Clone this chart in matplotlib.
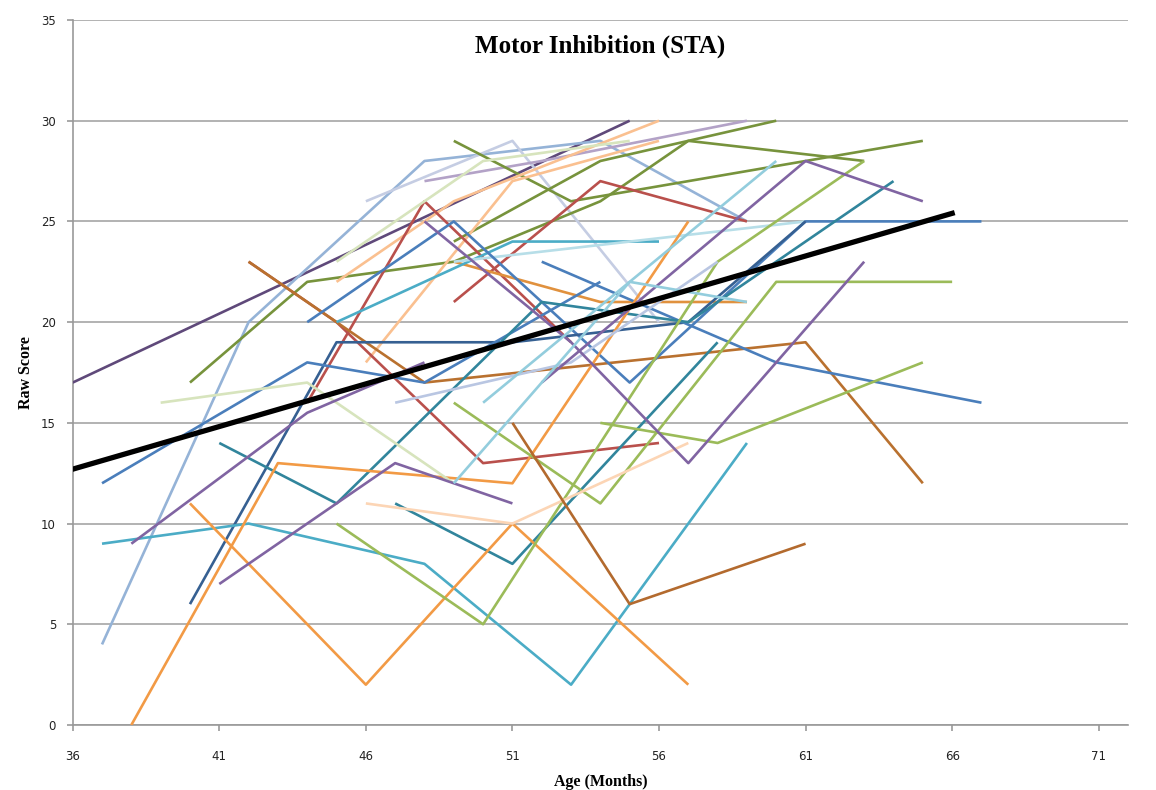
import matplotlib.pyplot as plt

# Age (months) and raw score for each child
ages = [
    [36, 55],                      # dark purple
    [37, 42, 48, 54, 59],          # light blue
    [46, 51, 56],                  # lavender
    [48, 52, 59],                  # light purple
    [40, 44, 49, 54, 57, 63],      # olive 1
    [49, 53, 61, 65],              # olive 2
    [49, 54, 57, 60],              # olive 3
    [45, 49, 56],                  # peach a
    [46, 51, 56],                  # peach b
    [44, 48, 53],                  # red a
    [42, 45, 50, 56],              # red b
    [49, 54, 59],                  # red c
    [42, 45, 48, 61, 65],          # ochre
    [49, 54, 59],                  # orange c
    [45, 51, 56],                  # aqua a
    [49, 61],                      # pale aqua
    [44, 49, 55, 61, 67],          # steel blue a
    [40, 45, 51, 57, 61],          # navy
    [52, 60, 67],                  # steel blue b
    [37, 44, 48, 54],              # steel blue c
    [41, 45, 52, 57, 64],          # teal 1
    [47, 51, 58],                  # teal 2
    [37, 42, 48, 53, 59],          # aqua b
    [38, 43, 51, 57],              # orange a
    [40, 46, 51, 57],              # orange b
    [39, 44, 49],                  # pale green a
    [45, 50, 55],                  # pale green b
    [45, 50, 58, 63],              # yellow green a
    [49, 54, 60, 66],              # yellow green b
    [54, 58, 65],                  # yellow green c
    [46, 51, 57],                  # pale salmon
    [51, 55, 61],                  # brown
    [47, 53, 58],                  # grey blue
    [38, 44, 48],                  # purple a
    [41, 47, 51],                  # purple b
    [48, 53, 57, 63],              # purple c
    [52, 61, 65],                  # purple d
    [50, 60],                      # sky a
    [49, 55, 59],                  # sky b
]
scores = [
    [17, 30],
    [4, 20, 28, 29, 25],
    [26, 29, 20],
    [27, 28, 30],
    [17, 22, 23, 26, 29, 28],
    [29, 26, 28, 29],
    [24, 28, 29, 30],
    [22, 26, 30],
    [18, 27, 29],
    [16, 26, 19],
    [23, 20, 13, 14],
    [21, 27, 25],
    [23, 20, 17, 19, 12],
    [23, 21, 21],
    [20, 24, 24],
    [23, 25],
    [20, 25, 17, 25, 25],
    [6, 19, 19, 20, 25],
    [23, 18, 16],
    [12, 18, 17, 22],
    [14, 11, 21, 20, 27],
    [11, 8, 19],
    [9, 10, 8, 2, 14],
    [0, 13, 12, 25],
    [11, 2, 10, 2],
    [16, 17, 12],
    [23, 28, 29],
    [10, 5, 23, 28],
    [16, 11, 22, 22],
    [15, 14, 18],
    [11, 10, 14],
    [15, 6, 9],
    [16, 18, 23],
    [9, 15.5, 18],
    [7, 13, 11],
    [25, 19, 13, 23],
    [17, 28, 26],
    [16, 28],
    [12, 22, 21],
]
line_colors = [
    "#5F497A", "#95B3D7", "#C5CDE3", "#B3A2C7", "#77933C", "#77933C",
    "#77933C", "#FAC090", "#FAC090", "#B9504C", "#B9504C", "#B9504C",
    "#B9712F", "#E0913E", "#4BACC6", "#B7DEE8", "#4A7EBB", "#366092",
    "#4A7EBB", "#4A7EBB", "#31859C", "#31859C", "#4BACC6", "#F29A45",
    "#F29A45", "#D7E4BD", "#D7E4BD", "#9BBB59", "#9BBB59", "#9BBB59",
    "#FCD5B5", "#B36A2E", "#B9C6E2", "#8064A2", "#8064A2", "#8064A2",
    "#8064A2", "#93CDDD", "#93CDDD",
]

# Excel linear trend line end points
trend_age = [36, 66]
trend_score = [12.7, 25.4]

fig = plt.figure(figsize=(11.56, 7.90), dpi=100)
ax = fig.add_axes([0.0629, 0.0823, 0.9129, 0.8924])

for a, s, c in zip(ages, scores, line_colors):
    ax.plot(a, s, color=c, lw=1.9, solid_capstyle="butt", zorder=3)
ax.plot(trend_age, trend_score, color="black", lw=3.8, zorder=5)

ax.set_xlim(36, 72)
ax.set_ylim(0, 35)
ax.set_xticks(range(36, 72, 5))
ax.set_yticks(range(0, 36, 5))
ax.yaxis.grid(True, color="#A6A6A6", lw=1.2)
ax.set_axisbelow(True)
for side in ["top", "right"]:
    ax.spines[side].set_visible(False)
for side in ["left", "bottom"]:
    ax.spines[side].set_color("#999999")
    ax.spines[side].set_linewidth(1.2)
ax.tick_params(axis="both", colors="#999999", length=4, width=1.2,
               labelcolor="#222222", labelsize=8.5)
ax.tick_params(axis="x", pad=14)
ax.tick_params(axis="y", pad=8)

ax.set_title("Motor Inhibition (STA)", family="Liberation Serif",
             fontweight="bold", fontsize=18, y=0.942)
ax.set_xlabel("Age (Months)", family="Liberation Serif", fontweight="bold",
              fontsize=11.5, labelpad=8)
ax.set_ylabel("Raw Score", family="Liberation Serif", fontweight="bold",
              fontsize=11.5, labelpad=5)

fig.savefig("out.png", dpi=100)
